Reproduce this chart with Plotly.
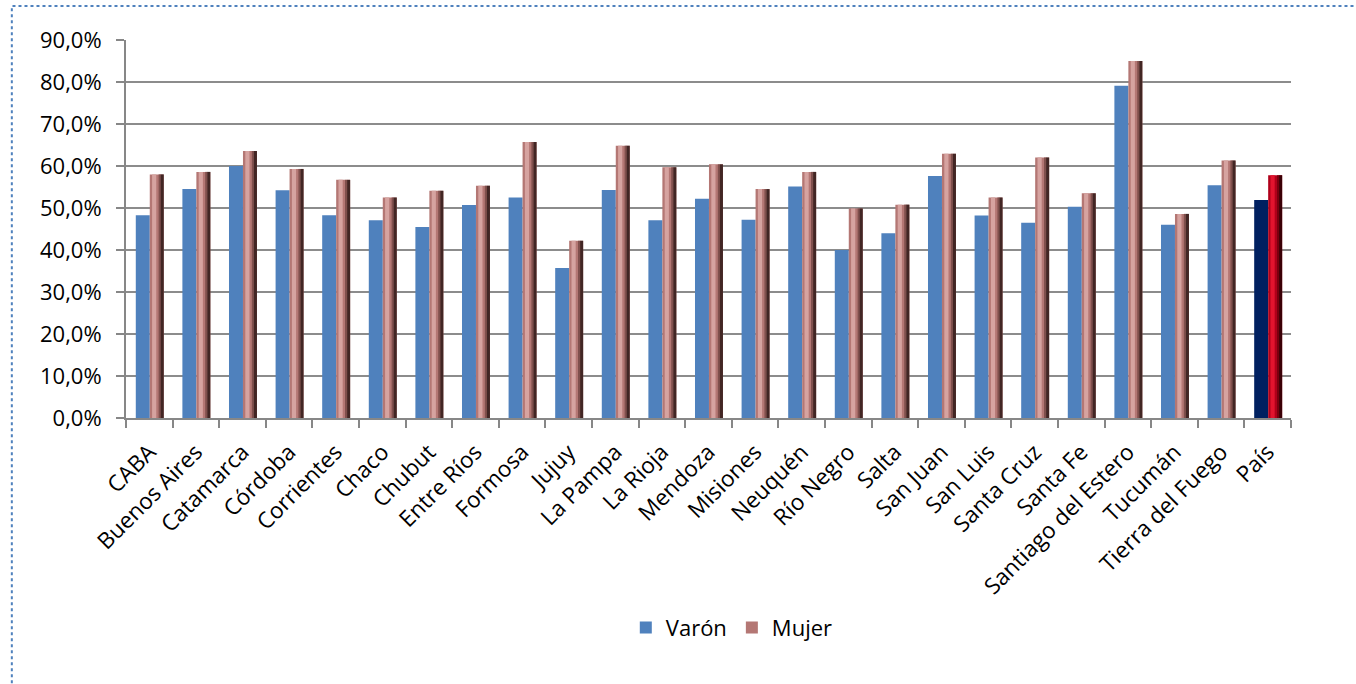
import plotly.graph_objects as go

# Provinces plus national total
provincias = [
    "CABA", "Buenos Aires", "Catamarca", "Córdoba", "Corrientes", "Chaco",
    "Chubut", "Entre Ríos", "Formosa", "Jujuy", "La Pampa", "La Rioja",
    "Mendoza", "Misiones", "Neuquén", "Río Negro", "Salta", "San Juan",
    "San Luis", "Santa Cruz", "Santa Fe", "Santiago del Estero", "Tucumán",
    "Tierra del Fuego", "País",
]

# Share (%) by sex
varon = [48.3, 54.5, 60.0, 54.2, 48.3, 47.1, 45.5, 50.7, 52.5, 35.7, 54.3, 47.1,
         52.2, 47.2, 55.1, 40.0, 44.0, 57.6, 48.2, 46.5, 50.3, 79.1, 46.0, 55.4, 51.9]
mujer = [58.0, 58.6, 63.6, 59.3, 56.7, 52.5, 54.1, 55.3, 65.7, 42.2, 64.8, 59.7,
         60.4, 54.5, 58.6, 49.9, 50.8, 62.9, 52.5, 62.0, 53.5, 85.0, 48.6, 61.3, 57.8]

y_ticks = [0, 10, 20, 30, 40, 50, 60, 70, 80, 90]
y_tick_text = [f"{v},0%" for v in y_ticks]

n = len(provincias)
last = n - 1


def colores(base, total):
    return [total if i == last else base for i in range(n)]


FONT = "Open Sans"
fig = go.Figure()

# Varón: flat blue bars, navy for the national total
fig.add_trace(go.Bar(
    x=provincias, y=varon, name="Varón",
    offset=-0.29, width=0.30,
    marker=dict(color=colores("#4F81BD", "#002060"), line=dict(width=0)),
))

# Mujer: rounded look built from layered strips
fig.add_trace(go.Bar(
    x=provincias, y=mujer, name="Mujer",
    offset=0.01, width=0.30,
    marker=dict(color=colores("#B47774", "#B0001A"), line=dict(width=0)),
))
fig.add_trace(go.Bar(
    x=provincias, y=mujer, showlegend=False, hoverinfo="skip",
    offset=0.06, width=0.09,
    marker=dict(color=colores("#D6A3A0", "#E2142E"), line=dict(width=0)),
))
fig.add_trace(go.Bar(
    x=provincias, y=mujer, showlegend=False, hoverinfo="skip",
    offset=0.20, width=0.05,
    marker=dict(color=colores("#80504D", "#7A000F"), line=dict(width=0)),
))
fig.add_trace(go.Bar(
    x=provincias, y=mujer, showlegend=False, hoverinfo="skip",
    offset=0.245, width=0.065,
    marker=dict(color=colores("#422624", "#3A0006"), line=dict(width=0)),
))

fig.update_layout(
    width=1356, height=684,
    barmode="overlay",
    paper_bgcolor="white", plot_bgcolor="white",
    margin=dict(l=126, r=65, t=40, b=266),
    font=dict(family=FONT, size=22, color="#000000"),
    showlegend=True,
    legend=dict(
        orientation="h", x=0.52, xanchor="center", y=-0.555, yanchor="middle",
        font=dict(family=FONT, size=22), traceorder="normal",
    ),
    shapes=[dict(
        type="rect", xref="paper", yref="paper",
        x0=-0.098, x1=1.06, y0=-0.75, y1=1.09,
        line=dict(color="#4F81BD", width=2, dash="dot"), layer="below",
    )],
)

fig.update_xaxes(
    type="category", tickangle=-45, tickson="boundaries",
    ticks="outside", ticklen=8, tickcolor="#878787", tickwidth=2,
    showline=True, linecolor="#878787", linewidth=2,
    showgrid=False, tickfont=dict(family=FONT, size=22.5),
    ticklabelstandoff=10,
)
fig.update_yaxes(
    range=[0, 90], tickvals=y_ticks, ticktext=y_tick_text,
    ticks="outside", ticklen=8, tickcolor="#878787", tickwidth=2,
    showline=True, linecolor="#878787", linewidth=2,
    showgrid=True, gridcolor="#8C8C8C", gridwidth=1.5,
    zeroline=False, tickfont=dict(family=FONT, size=22),
    ticklabelstandoff=10,
)

fig.write_html("out.html")
